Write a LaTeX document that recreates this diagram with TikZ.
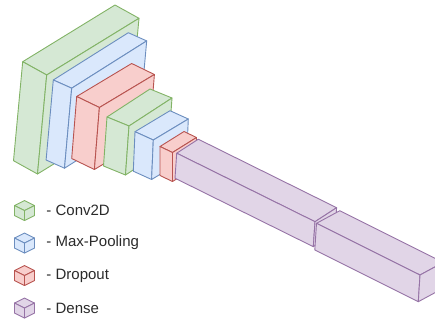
\documentclass[tikz,border=0pt]{standalone}
\usepackage{fontspec}
\setmainfont{Liberation Sans}
\usetikzlibrary{calc}

\definecolor{convfill}{HTML}{D5E8D4}\definecolor{convline}{HTML}{82B366}
\definecolor{poolfill}{HTML}{DAE8FC}\definecolor{poolline}{HTML}{6C8EBF}
\definecolor{dropfill}{HTML}{F8CECC}\definecolor{dropline}{HTML}{B85450}
\definecolor{densefill}{HTML}{E1D5E7}\definecolor{denseline}{HTML}{9673A6}
\definecolor{labelink}{HTML}{2A2A2A}

% #1 style, #2 front-top corner, #3 depth vector, #4 width vector, #5 height vector
\newcommand{\layerslab}[5]{%
  \coordinate (sA) at (#2);
  \coordinate (sB) at ($(sA)+(#4)$);
  \coordinate (sD) at ($(sA)+(#3)$);
  \coordinate (sC) at ($(sD)+(#4)$);
  \coordinate (sE) at ($(sA)+(#5)$);
  \coordinate (sF) at ($(sD)+(#5)$);
  \coordinate (sG) at ($(sC)+(#5)$);
  \filldraw[#1] (sA) -- (sB) -- (sC) -- (sD) -- cycle;
  \filldraw[#1] (sA) -- (sD) -- (sF) -- (sE) -- cycle;
  \filldraw[#1] (sD) -- (sC) -- (sG) -- (sF) -- cycle;
}

% small legend cube centred at #2
\newcommand{\legendcube}[2]{%
  \begin{scope}[shift={(#2)}]
    \filldraw[#1] (0,-10) -- (10,-5) -- (0,0) -- (-10,-5) -- cycle;
    \filldraw[#1] (-10,-5) -- (0,0) -- (0,10) -- (-10,5) -- cycle;
    \filldraw[#1] (0,0) -- (10,-5) -- (10,5) -- (0,10) -- cycle;
  \end{scope}
}

\tikzset{
  conv/.style={fill=convfill, draw=convline},
  pool/.style={fill=poolfill, draw=poolline},
  drop/.style={fill=dropfill, draw=dropline},
  dense/.style={fill=densefill, draw=denseline},
  legendtext/.style={anchor=west, inner sep=0pt, text=labelink,
    font=\fontsize{15}{17}\selectfont},
}

\begin{document}
\begin{tikzpicture}[x=1pt, y=-1pt, line width=0.9pt, line join=round]
  \clip (0,0) rectangle (435,324);

  % network layers, back to front
  \layerslab{conv}{22.7,61.7}{24,13.3}{92.3,-56.7}{-9.2,99}
  \layerslab{pool}{53.3,80}{18.4,8.2}{75,-47.3}{-7.2,80}
  \layerslab{drop}{76.7,96.5}{22.7,11}{55,-33}{-5,62}
  \layerslab{conv}{107,117}{22,9}{43,-28}{-3.5,49}
  \layerslab{pool}{135,131.7}{18.3,8.3}{35,-21}{-1.7,39.5}
  \layerslab{drop}{160,146.5}{12.5,6}{24,-15}{0,29}
  \layerslab{dense}{176.7,153.2}{138.3,68.5}{21.6,-14}{-1.7,25}
  \layerslab{dense}{316.5,223.3}{103.5,51.7}{23.3,-12.6}{-1.7,26.7}

  % legend
  \legendcube{conv}{24.5,210.5}
  \legendcube{pool}{24.5,243}
  \legendcube{drop}{24.5,275.5}
  \legendcube{dense}{24.5,308}
  \node[legendtext] (lconv)  at (46,210.5) {- Conv2D};
  \node[legendtext] (lpool)  at (46,243)   {- Max-Pooling};
  \node[legendtext] (ldrop)  at (46,275.5) {- Dropout};
  \node[legendtext] (ldense) at (46,308)   {- Dense};
\end{tikzpicture}
\end{document}
